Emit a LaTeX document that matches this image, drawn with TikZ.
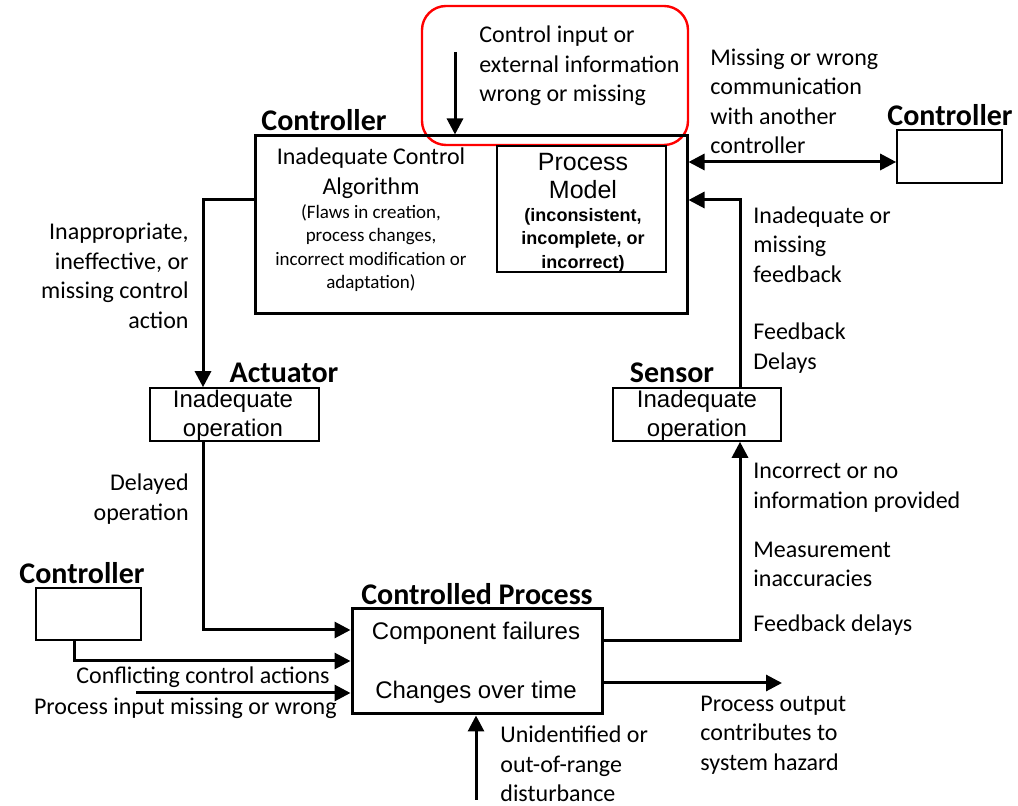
\documentclass[tikz,border=0pt]{standalone}
\usepackage{fontspec}
\setmainfont{Carlito}
\newfontfamily\arialf{Liberation Sans}
\usetikzlibrary{arrows.meta}
\begin{document}
\begin{tikzpicture}[x=0.5pt,y=-0.5pt,
  lbl/.style={inner sep=0pt, font=\fontsize{12}{14.75}\selectfont},
  lblL/.style={lbl, anchor=west, align=left},
  lblR/.style={lbl, anchor=east, align=right},
  ttl/.style={inner sep=0pt, font=\fontsize{15}{18}\selectfont\bfseries},
  bigbox/.style={draw, line width=1.5pt, inner sep=0pt},
  smallbox/.style={draw, line width=0.8pt, inner sep=0pt},
  boxtxt/.style={inner sep=0pt, align=center, font=\arialf\fontsize{12}{14.5}\selectfont},
  arr/.style={line width=1.5pt, -{Triangle[length=8pt,width=8pt]}},
  darr/.style={line width=1.5pt, {Triangle[length=8pt,width=8pt]}-{Triangle[length=8pt,width=8pt]}},
]
\useasboundingbox (0,0) rectangle (1018,806);

% red highlight
\draw[red, line width=1.2pt, rounded corners=12pt] (422,6) rectangle (688,145);

% boxes
\node[bigbox, minimum width=216pt, minimum height=89pt] (ctrl) at (471,225) {};
\node[smallbox, minimum width=84.5pt, minimum height=63pt] (pm) at (581.5,209) {};
\node[smallbox, minimum width=84.5pt, minimum height=26.5pt] (act) at (234.5,414.5) {};
\node[smallbox, minimum width=84pt, minimum height=26.5pt] (sen) at (697,414.5) {};
\node[bigbox, minimum width=125pt, minimum height=52.5pt] (cp) at (477,661.5) {};
\node[smallbox, minimum width=52.5pt, minimum height=26.5pt] (c2) at (949.5,156.5) {};
\node[smallbox, minimum width=52.5pt, minimum height=26pt] (c3) at (88.5,614) {};

% titles
\node[ttl] (tctrl) at (324,120) {Controller};
\node[ttl] (tc2) at (950,115) {Controller};
\node[ttl] (tact) at (284,373) {Actuator};
\node[ttl] (tsen) at (672,373) {Sensor};
\node[ttl] (tcp) at (477,594) {Controlled Process};
\node[ttl] (tc3) at (82,573) {Controller};

% box texts
\node[lbl, align=center] (alg) at (371,173) {Inadequate Control\\Algorithm};
\node[inner sep=0pt, align=center, font=\fontsize{9.5}{11.75}\selectfont] (algs) at (371,248)
  {(Flaws in creation,\\process changes,\\incorrect modification or\\adaptation)};
\node[boxtxt, font=\arialf\fontsize{12.5}{14}\selectfont] (pmt) at (583,176) {Process\\Model};
\node[boxtxt, font=\arialf\bfseries\fontsize{9}{11.75}\selectfont] (pms) at (583,240) {(inconsistent,\\incomplete, or\\incorrect)};
\node[boxtxt] (actt) at (233,415.5) {Inadequate\\operation};
\node[boxtxt] (sent) at (697,415.5) {Inadequate\\operation};
\node[boxtxt] (cp1) at (476,633) {Component failures};
\node[boxtxt] (cp2) at (476,692) {Changes over time};

% labels
\node[lblL] (l1) at (479,66) {Control input or\\external information\\wrong or missing};
\node[lblL] (l2) at (710,101.5) {Missing or wrong\\communication\\with another\\controller};
\node[lblL] (l3) at (753,244.5) {Inadequate or\\missing\\feedback};
\node[lblL] (l4) at (753,348) {Feedback\\Delays};
\node[lblL] (l5) at (753,487.5) {Incorrect or no\\information provided};
\node[lblL] (l6) at (753,564.5) {Measurement\\inaccuracies};
\node[lblL] (l7) at (753,625) {Feedback delays};
\node[lblL] (l8) at (700,735) {Process output\\contributes to\\system hazard};
\node[lblL] (l9) at (500,764) {Unidentified or\\out-of-range\\disturbance};
\node[lblR] (l10) at (330,677) {Conflicting control actions};
\node[lblR] (l11) at (337,708) {Process input missing or wrong};
\node[lblR] (l12) at (189,499) {Delayed\\operation};
\node[lblR] (l13) at (189,276) {Inappropriate,\\ineffective, or\\missing control\\action};

% free ends
\coordinate (cin) at (455,52);
\coordinate (pin) at (136,693);
\coordinate (dist) at (476,800);
\coordinate (pout) at (782,683);

% connectors
\draw[arr] (cin) -- (ctrl.north -| cin);
\draw[darr] (ctrl.east |- 0,162) -- (c2.west |- 0,162);
\draw[arr] (sen.north -| 740,0) |- (ctrl.east |- 0,200);
\draw[arr] (ctrl.west |- 0,200) -| (act.north -| 203,0);
\draw[arr] (act.south -| 203,0) |- (cp.west |- 0,630);
\draw[arr] (c3.south -| 74,0) |- (cp.west |- 0,661);
\draw[arr] (pin) -- (cp.west |- pin);
\draw[arr] (dist) -- (cp.south -| dist);
\draw[arr] (cp.east |- pout) -- (pout);
\draw[arr] (cp.east |- 0,641) -| (sen.south -| 740,0);
\end{tikzpicture}
\end{document}
